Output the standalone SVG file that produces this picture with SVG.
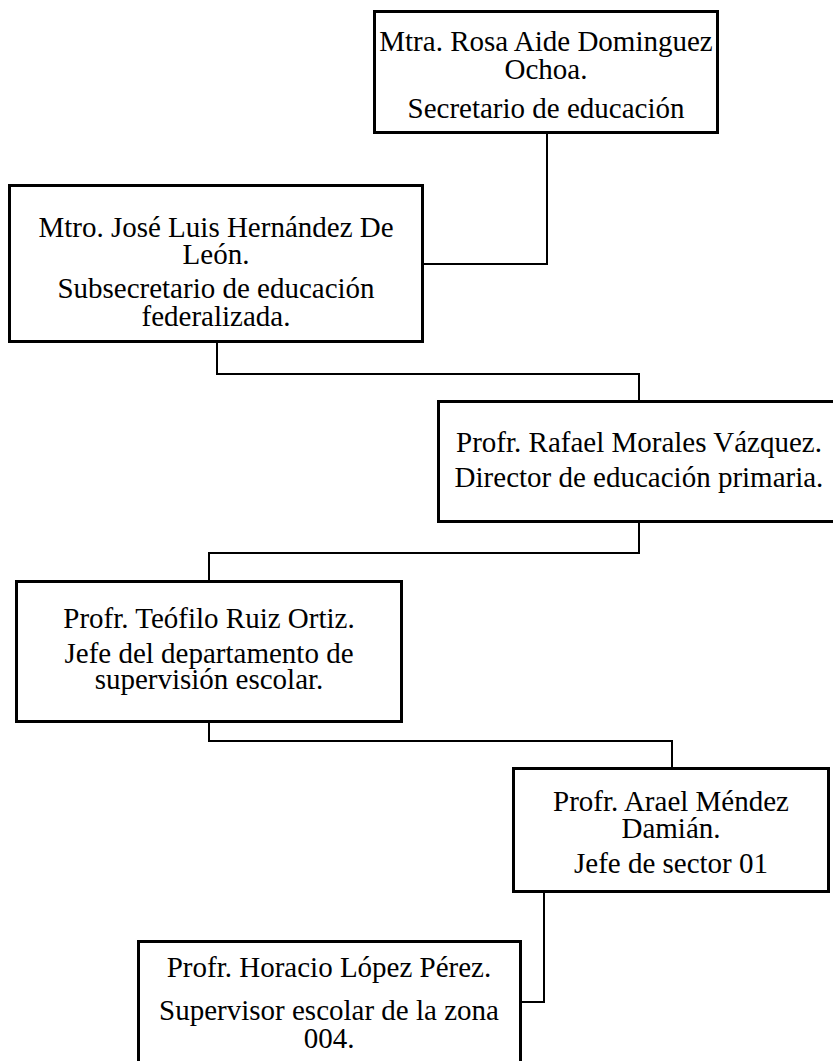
<svg xmlns="http://www.w3.org/2000/svg" width="833" height="1061" viewBox="0 0 833 1061">
<style>
.box{fill:#fff;stroke:#000;stroke-width:3}
.con{fill:none;stroke:#000;stroke-width:2}
.t{font-family:"Liberation Serif","Times New Roman",serif;font-size:29px;fill:#000;text-anchor:middle}
</style>
<rect width="833" height="1061" fill="#fff"/>
<g id="connectors">
<polyline class="con" points="547,134 547,264 424,264"/>
<polyline class="con" points="217,343 217,374 639,374 639,401"/>
<polyline class="con" points="639,523 639,553 209,553 209,580"/>
<polyline class="con" points="209,723 209,741 672,741 672,767"/>
<polyline class="con" points="544,893 544,1002 522,1002"/>
</g>
<g id="n1">
<rect class="box" x="374.5" y="11.5" width="343" height="121"/>
<text class="t" x="546" y="51">Mtra. Rosa Aide Dominguez</text>
<text class="t" x="546" y="79">Ochoa.</text>
<text class="t" x="546" y="118">Secretario de educación</text>
</g>
<g id="n2">
<rect class="box" x="9.5" y="185.5" width="413" height="156"/>
<text class="t" x="216" y="237">Mtro. José Luis Hernández De</text>
<text class="t" x="216" y="264">León.</text>
<text class="t" x="216" y="298">Subsecretario de educación</text>
<text class="t" x="216" y="326">federalizada.</text>
</g>
<g id="n3">
<rect class="box" x="438.5" y="401.5" width="402" height="120"/>
<text class="t" x="639" y="452">Profr. Rafael Morales Vázquez.</text>
<text class="t" x="639" y="487">Director de educación primaria.</text>
</g>
<g id="n4">
<rect class="box" x="16.5" y="581.5" width="385" height="140"/>
<text class="t" x="209" y="628">Profr. Teófilo Ruiz Ortiz.</text>
<text class="t" x="209" y="663">Jefe del departamento de</text>
<text class="t" x="209" y="689">supervisión escolar.</text>
</g>
<g id="n5">
<rect class="box" x="513.5" y="768.5" width="315" height="123"/>
<text class="t" x="671" y="811">Profr. Arael Méndez</text>
<text class="t" x="671" y="838">Damián.</text>
<text class="t" x="671" y="873">Jefe de sector 01</text>
</g>
<g id="n6">
<rect class="box" x="138.5" y="941.5" width="382" height="140"/>
<text class="t" x="329" y="977">Profr. Horacio López Pérez.</text>
<text class="t" x="329" y="1020">Supervisor escolar de la zona</text>
<text class="t" x="329" y="1048">004.</text>
</g>
</svg>
